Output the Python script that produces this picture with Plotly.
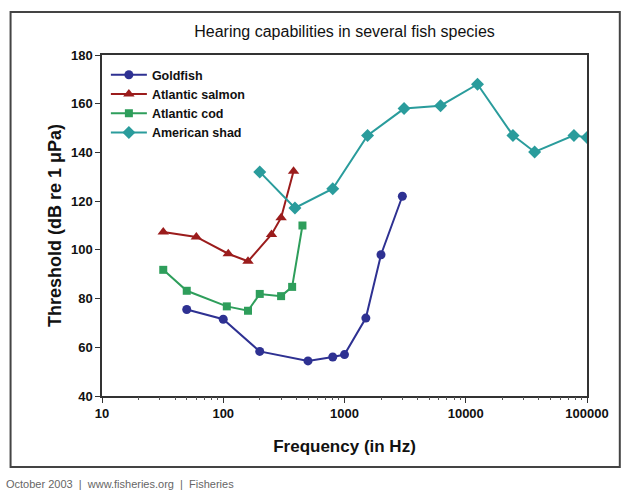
import plotly.graph_objects as go

gold_f = [50, 100, 200, 500, 800, 1000, 1500, 2000, 3000]
gold_v = [75.5, 71.5, 58.3, 54.4, 56, 57, 72, 98, 122]

salmon_f = [32, 60, 110, 160, 250, 300, 380]
salmon_v = [107.3, 105.3, 98.4, 95.3, 106.3, 113.2, 132.3]

cod_f = [32, 50, 107, 160, 200, 300, 370, 450]
cod_v = [91.8, 83.2, 76.8, 75, 81.9, 81, 84.8, 110]

shad_f = [200, 390, 800, 1550, 3100, 6200, 12500, 24500, 37000, 78000, 100000]
shad_v = [132, 117.2, 125.1, 147, 158, 159.2, 168, 147, 140.2, 147, 146.1]

x_major = [10, 100, 1000, 10000, 100000]
x_minor = [m * d for d in [10, 100, 1000, 10000] for m in range(2, 10)]
y_ticks = [40, 60, 80, 100, 120, 140, 160, 180]

W, H = 621, 491
L, R, T, B = 102, 31, 55, 95
pw, ph = W - L - R, H - T - B

def px(x):
    return (x - L) / pw

def py(y):
    return (H - B - y) / ph

fig = go.Figure()
series = [
    ("Goldfish", gold_f, gold_v, "#2E3192", "circle", 9),
    ("Atlantic salmon", salmon_f, salmon_v, "#9B1C1C", "triangle-up", 10),
    ("Atlantic cod", cod_f, cod_v, "#2E9E5B", "square", 8),
    ("American shad", shad_f, shad_v, "#2A9C9C", "diamond", 10),
]
for name, f, v, c, sym, sz in series:
    fig.add_trace(go.Scatter(x=f, y=v, name="<b>%s</b>" % name, mode="lines+markers",
                             line=dict(color=c, width=2),
                             marker=dict(color=c, symbol=sym, size=sz)))

# helper trace for the minor-tick axis
fig.add_trace(go.Scatter(x=[x_major[0]], y=[y_ticks[0]], xaxis="x2", mode="markers",
                         marker=dict(opacity=0), showlegend=False, hoverinfo="skip"))

fig.update_layout(
    width=W, height=H,
    margin=dict(l=L, r=R, t=T, b=B),
    paper_bgcolor="white", plot_bgcolor="white",
    font=dict(family="Liberation Sans, Arial, sans-serif", color="#111"),
    title=dict(text="Hearing capabilities in several fish species",
               x=0.5, xanchor="center", xref="paper", y=1 - 31 / H, yanchor="middle",
               font=dict(size=16, color="#111")),
    legend=dict(x=0.008, y=0.985, xanchor="left", yanchor="top",
                bgcolor="rgba(0,0,0,0)", borderwidth=0,
                font=dict(size=12.5, color="#111", family="Liberation Sans, Arial, sans-serif"),
                tracegroupgap=0, itemwidth=36),
    showlegend=True,
    xaxis=dict(type="log", range=[1, 5], showgrid=False, zeroline=False,
               tickvals=x_major,
               ticktext=["<b>%d</b>" % v for v in x_major],
               ticks="outside", ticklen=5, tickcolor="#333",
               showline=True, linecolor="#333", linewidth=1.5, mirror=True,
               tickfont=dict(size=13, color="#111"),
               title=dict(text="<b>Frequency (in Hz)</b>", font=dict(size=17, color="#111"), standoff=20)),
    xaxis2=dict(type="log", range=[1, 5], overlaying="x", anchor="y", side="bottom",
                tickvals=x_minor, showticklabels=False, ticks="outside", ticklen=3,
                tickcolor="#555", showgrid=False, zeroline=False, showline=False),
    yaxis=dict(range=[40, 180], showgrid=False, zeroline=False,
               ticks="outside", ticklen=5, tickcolor="#333",
               showline=True, linecolor="#333", linewidth=1.5, mirror=True,
               tickvals=y_ticks,
               ticktext=["<b>%d</b>" % v for v in y_ticks],
               tickfont=dict(size=13, color="#111"),
               title=dict(text="<b>Threshold (dB re 1 \u03bcPa)</b>", font=dict(size=18, color="#111"), standoff=5)),
)

fig.add_shape(type="rect", xref="paper", yref="paper",
              x0=px(10), x1=px(623), y0=py(467), y1=py(12),
              line=dict(color="#444", width=2), fillcolor="rgba(0,0,0,0)", layer="below")
fig.add_annotation(text="October 2003  |  www.fisheries.org  |  Fisheries",
                   xref="paper", yref="paper", x=px(3), y=py(484), xanchor="left", yanchor="middle",
                   showarrow=False, font=dict(size=11, color="#666"))

fig.write_html("out.html", config={"displayModeBar": False},
               post_script="document.body.style.margin='0';")
